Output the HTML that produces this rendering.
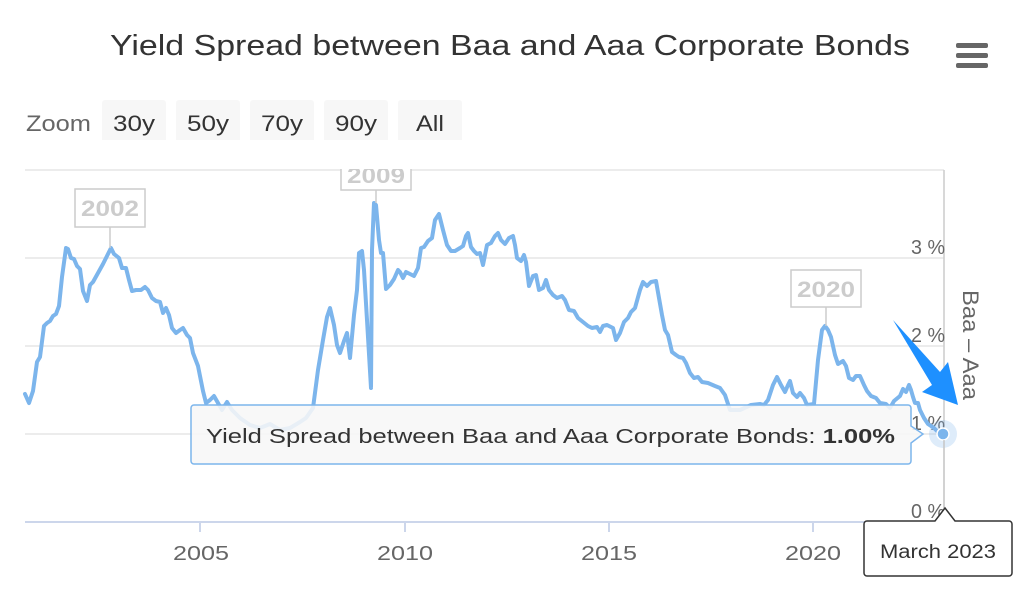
<!DOCTYPE html>
<html><head><meta charset="utf-8"><style>
body{margin:0;background:#fff;width:1028px;height:600px;overflow:hidden;font-family:"Liberation Sans",sans-serif}
</style></head><body>
<svg id="s" width="1028" height="600" xmlns="http://www.w3.org/2000/svg" font-family="Liberation Sans, sans-serif">
<text x="110" y="55" font-size="29" fill="#333" textLength="800" lengthAdjust="spacingAndGlyphs">Yield Spread between Baa and Aaa Corporate Bonds</text>
<g fill="#666"><rect x="956" y="43" width="32" height="5" rx="2"/><rect x="956" y="53" width="32" height="5" rx="2"/><rect x="956" y="63" width="32" height="5" rx="2"/></g>
<text x="26" y="131" font-size="22" fill="#666" textLength="65" lengthAdjust="spacingAndGlyphs">Zoom</text>
<g fill="#f7f7f7"><rect x="102" y="100" width="64" height="43" rx="3"/><rect x="176" y="100" width="64" height="43" rx="3"/><rect x="250" y="100" width="64" height="43" rx="3"/><rect x="324" y="100" width="64" height="43" rx="3"/><rect x="398" y="100" width="64" height="43" rx="3"/></g>
<g font-size="22" fill="#333"><text x="113" y="131" textLength="42" lengthAdjust="spacingAndGlyphs">30y</text><text x="187" y="131" textLength="42" lengthAdjust="spacingAndGlyphs">50y</text><text x="261" y="131" textLength="42" lengthAdjust="spacingAndGlyphs">70y</text><text x="335" y="131" textLength="42" lengthAdjust="spacingAndGlyphs">90y</text><text x="416" y="131" textLength="28" lengthAdjust="spacingAndGlyphs">All</text></g>
<g stroke="#e6e6e6" stroke-width="1.5"><line x1="25" x2="944" y1="170" y2="170"/><line x1="25" x2="944" y1="258" y2="258"/><line x1="25" x2="944" y1="346" y2="346"/><line x1="25" x2="944" y1="434" y2="434"/></g>
<line x1="944" x2="944" y1="170" y2="522" stroke="#ccc" stroke-width="1.5"/>
<line x1="25" x2="944" y1="522" y2="522" stroke="#ccd6eb" stroke-width="2"/>
<g stroke="#ccd6eb" stroke-width="2"><line x1="200" x2="200" y1="522" y2="532"/><line x1="405" x2="405" y1="522" y2="532"/><line x1="609" x2="609" y1="522" y2="532"/><line x1="813" x2="813" y1="522" y2="532"/></g>
<g font-size="20" fill="#666"><text x="173" y="560" textLength="56" lengthAdjust="spacingAndGlyphs">2005</text><text x="377" y="560" textLength="56" lengthAdjust="spacingAndGlyphs">2010</text><text x="581" y="560" textLength="56" lengthAdjust="spacingAndGlyphs">2015</text><text x="785" y="560" textLength="56" lengthAdjust="spacingAndGlyphs">2020</text></g>
<g font-size="20" fill="#666"><text x="911" y="254" textLength="34" lengthAdjust="spacingAndGlyphs">3 %</text><text x="911" y="342" textLength="34" lengthAdjust="spacingAndGlyphs">2 %</text><text x="911" y="430" textLength="34" lengthAdjust="spacingAndGlyphs">1 %</text><text x="911" y="518" textLength="34" lengthAdjust="spacingAndGlyphs">0 %</text></g>
<text transform="translate(963,290) rotate(90)" font-size="22" fill="#666" textLength="110" lengthAdjust="spacingAndGlyphs">Baa – Aaa</text>
<path id="ln" fill="none" stroke="#7cb5ec" stroke-width="4" stroke-linejoin="round" stroke-linecap="round"/>
<g stroke="#ccc" stroke-width="1.5" fill="#fff"><line x1="110" y1="227" x2="110" y2="248"/><line x1="376" y1="190" x2="376" y2="203"/><line x1="826" y1="307" x2="826" y2="326"/>
<rect x="75" y="189" width="70" height="38"/><rect x="341" y="150" width="70" height="40"/><rect x="791" y="270" width="70" height="37"/></g>
<g font-size="22" font-weight="bold" fill="#ccc"><text x="81" y="216" textLength="58" lengthAdjust="spacingAndGlyphs">2002</text><text x="347" y="183" textLength="58" lengthAdjust="spacingAndGlyphs">2009</text><text x="797" y="297" textLength="58" lengthAdjust="spacingAndGlyphs">2020</text></g>
<rect x="0" y="140" width="944" height="29" fill="#fff"/>
<polygon points="893,320 940,372 948,362 958,405 922,392 932,385" fill="#1e90ff"/>
<path d="M191,408 a3,3 0 0 1 3,-3 H908 a3,3 0 0 1 3,3 V426 L923,434 L911,443 V461 a3,3 0 0 1 -3,3 H194 a3,3 0 0 1 -3,-3 Z" fill="rgba(247,247,247,0.88)" stroke="#7cb5ec" stroke-width="1.5"/>
<text x="206" y="443" font-size="20" fill="#333" textLength="689" lengthAdjust="spacingAndGlyphs">Yield Spread between Baa and Aaa Corporate Bonds: <tspan font-weight="bold">1.00%</tspan></text>
<circle cx="943" cy="434" r="14" fill="#7cb5ec" opacity="0.25"/>
<circle cx="943" cy="434" r="6" fill="#7cb5ec" stroke="#fff" stroke-width="1.5"/>
<line x1="944" y1="440" x2="944" y2="508" stroke="#ccc" stroke-width="1.5"/>
<path d="M867,521 H935 L945,508 L955,521 H1009 a3,3 0 0 1 3,3 V573 a3,3 0 0 1 -3,3 H867 a3,3 0 0 1 -3,-3 V524 a3,3 0 0 1 3,-3Z" fill="#fff" stroke="#333" stroke-width="1.5"/>
<text x="880" y="558" font-size="19" fill="#333" textLength="116" lengthAdjust="spacingAndGlyphs">March 2023</text>
</svg>
<script>
var a=[[25,394],[29,403],[33,391],[37,362],[40,357],[44,326],[47,323],[50,321],[53,316],[56,314],[59,306],[62,277],[66,248],[68,249],[71,258],[74,259],[77,266],[80,269],[83,291],[87,301],[90,285],[93,282],[98,273],[103,264],[107,256],[111,248],[114,254],[119,258],[122,268],[126,268],[129,280],[132,291],[136,290],[141,290],[145,287],[148,290],[152,298],[156,301],[160,302],[163,313],[166,308],[169,315],[172,328],[176,333],[180,330],[183,328],[187,335],[190,338],[193,353],[198,366],[203,391],[206,403],[210,400],[214,396],[218,403],[222,410],[227,402],[232,410],[240,418],[250,425],[260,428],[270,424],[280,430],[290,428],[300,422],[306,418],[313,408],[318,370],[323,340],[327,317],[330,308],[334,325],[337,345],[340,353],[344,341],[347,333],[350,358],[354,315],[357,290],[359,253],[362,251],[364,270],[367,320],[371,388],[372,250],[374,203],[376,205],[379,240],[381,253],[383,253],[386,289],[390,285],[394,279],[398,270],[400,272],[403,278],[406,272],[410,274],[414,276],[418,268],[421,248],[424,247],[428,241],[432,238],[435,220],[439,214],[443,230],[447,245],[451,251],[455,251],[460,248],[463,246],[466,236],[468,233],[471,247],[474,251],[477,254],[480,253],
[483,265],[487,245],[491,243],[495,236],[498,233],[501,240],[505,244],[509,238],[513,236],[515,245],[517,258],[521,261],[524,255],[526,262],[529,286],[533,276],[536,275],[539,290],[543,288],[546,280],[549,290],[553,295],[557,298],[562,296],[565,300],[569,310],[574,311],[578,318],[583,322],[588,326],[592,328],[597,327],[600,332],[603,326],[607,325],[613,328],[616,340],[620,333],[624,322],[628,318],[631,312],[635,308],[640,290],[643,282],[647,286],[651,282],[656,281],[659,298],[662,315],[665,330],[668,335],[672,352],[676,355],[679,357],[683,358],[686,363],[690,373],[694,378],[698,377],[702,382],[708,383],[715,386],[720,388],
[725,395],[730,410],[740,410],[751,405],[760,404],[764,405],[768,400],[773,385],[777,377],[781,385],[785,392],[788,385],[790,381],[793,393],[797,397],[800,393],[804,398],[807,405],[814,404],[818,360],[822,330],[825,326],[828,330],[831,337],[835,355],[838,364],[843,361],[846,366],[849,378],[853,380],[856,376],[860,376],[864,385],[867,391],[871,396],[876,398],[880,403],[886,404],[890,408],[894,401],[900,396],[903,389],[906,392],[909,385],[911,390],[913,397],[915,403],[918,403],[920,410],[924,418],[928,424],[934,428],[938,432],[943,434]];
var d="";a.forEach(function(p,i){d+=(i?"L":"M")+p[0]+","+p[1];});
document.getElementById("ln").setAttribute("d",d);
</script>
</body></html>
